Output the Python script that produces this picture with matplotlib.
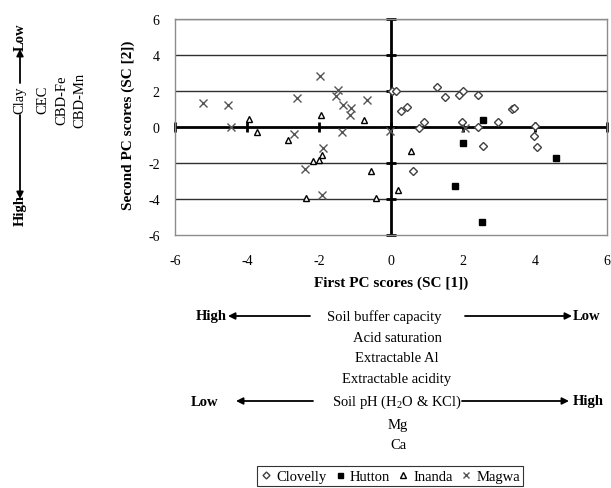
import numpy as np
import matplotlib
matplotlib.use("Agg")
import matplotlib.pyplot as plt

plt.rcParams['font.family'] = ['Liberation Serif', 'DejaVu Serif']
plt.rcParams['mathtext.fontset'] = 'custom'
plt.rcParams['mathtext.rm'] = 'Liberation Serif'
plt.rcParams['axes.unicode_minus'] = False

# PC scores
clovelly_x = [0.02, 0.14, 0.27, 0.44, 0.78, 0.93, 1.27, 1.50, 1.90, 2.01, 1.96,
              2.43, 2.43, 2.56, 2.98, 3.37, 3.42, 4.00, 3.97, 4.05, 0.62]
clovelly_y = [2.02, 2.02, 0.91, 1.13, -0.07, 0.30, 2.24, 1.69, 1.78, 2.02, 0.26,
              1.78, 0.02, -1.07, 0.26, 1.00, 1.05, 0.07, -0.52, -1.13, -2.46]

hutton_x = [2.55, 2.01, 4.58, 1.78, 2.52]
hutton_y = [0.41, -0.89, -1.72, -3.30, -5.30]

inanda_x = [-3.94, -3.73, -1.94, -2.85, -0.75, -2.16, -1.99, -1.93, -0.56,
            -2.36, -0.43, 0.55, 0.20]
inanda_y = [0.44, -0.26, 0.68, -0.70, 0.41, -1.91, -1.81, -1.56, -2.43,
            -3.96, -3.96, -1.35, -3.50]

magwa_x = [-5.21, -4.52, -4.45, -2.60, -2.69, -1.96, -1.54, -1.46, -1.32,
           -1.11, -1.14, -0.66, -1.36, -1.88, -2.38, -1.91, -0.03, 2.05]
magwa_y = [1.31, 1.22, -0.02, 1.59, -0.39, 2.85, 1.74, 2.06, 1.24,
           1.04, 0.67, 1.50, -0.30, -1.19, -2.33, -3.78, -0.20, -0.05]

ticks = [-6, -4, -2, 0, 2, 4, 6]

W, H = 611, 489
fig = plt.figure(figsize=(W / 100, H / 100), dpi=100)
ax = fig.add_axes([175 / W, 1 - 236 / H, 432 / W, 216 / H])

ax.set_xlim(-6, 6)
ax.set_ylim(-6, 6)
ax.set_xticks(ticks)
ax.set_yticks(ticks)
ax.tick_params(length=0, labelsize=10)
ax.tick_params(axis='x', pad=14)
ax.tick_params(axis='y', pad=11)
for s in ax.spines.values():
    s.set_color('#8c8c8c')
    s.set_linewidth(1)

# horizontal gridlines
for t in ticks[1:-1]:
    if t != 0:
        ax.axhline(t, color='#303030', lw=1, zorder=1)
ax.axhline(6, color='#606060', lw=1, zorder=1)

# axes crossing at zero, with tick marks
ax.axhline(0, color='black', lw=2, zorder=2)
ax.axvline(0, color='black', lw=2, zorder=2)
ax.plot(ticks, np.zeros(len(ticks)), ls='none', marker='|', ms=7, mew=2,
        color='black', zorder=2, clip_on=False)
ax.plot(np.zeros(len(ticks)), ticks, ls='none', marker='_', ms=7, mew=2,
        color='black', zorder=2, clip_on=False)

h1, = ax.plot(clovelly_x, clovelly_y, ls='none', marker='D', ms=4.4,
              mfc='white', mec='#404040', mew=1, zorder=3, label='Clovelly')
h2, = ax.plot(hutton_x, hutton_y, ls='none', marker='s', ms=4.5,
              mfc='black', mec='black', zorder=3, label='Hutton')
h3, = ax.plot(inanda_x, inanda_y, ls='none', marker='^', ms=5,
              mfc='white', mec='black', mew=1, zorder=3, label='Inanda')
h4, = ax.plot(magwa_x, magwa_y, ls='none', marker='x', ms=5.5,
              mec='#555555', mew=1, zorder=3, label='Magwa')

# axis titles
fig.text(391 / W, 1 - 283 / H, 'First PC scores (SC [1])', fontsize=11,
         fontweight='bold', ha='center', va='center')
fig.text(128 / W, 1 - 125 / H, 'Second PC scores (SC [2])', fontsize=11,
         fontweight='bold', ha='center', va='center', rotation=90)


def px(x, y):
    return (x / W, 1 - y / H)


def arrow(x0, y0, x1, y1):
    fig.add_artist(matplotlib.patches.FancyArrowPatch(
        px(x0, y0), px(x1, y1), transform=fig.transFigure,
        arrowstyle='-|>', mutation_scale=10, color='black', lw=1.3,
        shrinkA=0, shrinkB=0))


# left-hand rotated block
fig.text(*px(20, 37), 'Low', fontsize=10.5, fontweight='bold', rotation=90,
         ha='center', va='center')
arrow(20, 84, 20, 50)
fig.text(*px(20, 100), 'Clay', fontsize=10.5, rotation=90, ha='center', va='center')
arrow(20, 116, 20, 200)
fig.text(*px(20, 211), 'High', fontsize=10.5, fontweight='bold', rotation=90,
         ha='center', va='center')
for xx, lab in [(43, 'CEC'), (62, 'CBD-Fe'), (80, 'CBD-Mn')]:
    fig.text(*px(xx, 100), lab, fontsize=10.5, rotation=90, ha='center', va='center')

# bottom block
rows = [(384, 317, 'Soil buffer capacity'),
        (397, 338, 'Acid saturation'),
        (397, 359, 'Extractable Al'),
        (397, 380, 'Extractable acidity'),
        (397, 402, 'Soil pH (H$_2$O & KCl)'),
        (398, 426, 'Mg'),
        (398, 446, 'Ca')]
for xx, yy, lab in rows:
    fig.text(*px(xx, yy), lab, fontsize=10.5, ha='center', va='center')

fig.text(*px(211, 317), 'High', fontsize=10.5, fontweight='bold', ha='center', va='center')
arrow(310, 317, 228, 317)
arrow(465, 317, 572, 317)
fig.text(*px(587, 317), 'Low', fontsize=10.5, fontweight='bold', ha='center', va='center')

fig.text(*px(205, 402), 'Low', fontsize=10.5, fontweight='bold', ha='center', va='center')
arrow(313, 402, 236, 402)
arrow(462, 402, 569, 402)
fig.text(*px(588, 402), 'High', fontsize=10.5, fontweight='bold', ha='center', va='center')

leg = fig.legend(handles=[h1, h2, h3, h4], loc='center', bbox_to_anchor=px(390, 477),
                 ncol=4, fontsize=10.5, frameon=True, fancybox=False,
                 handlelength=0.8, handletextpad=0.3, columnspacing=0.5,
                 borderpad=0.25, markerscale=0.8)
leg.get_frame().set_edgecolor('black')
leg.get_frame().set_linewidth(0.8)

fig.savefig('out.png', dpi=100)
